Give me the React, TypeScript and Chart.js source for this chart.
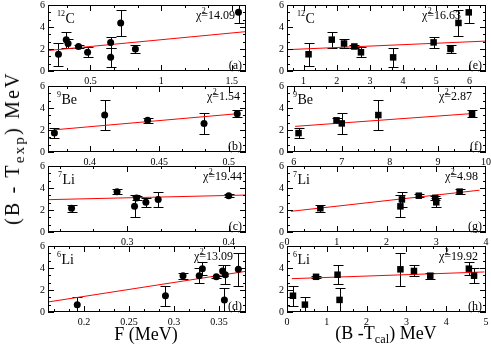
import React, { useEffect, useRef } from "react";
import { Chart, registerables } from "chart.js";
Chart.register(...registerables);

// ---------- data ----------
// 12C
const c12Y = [1.52, 2.85, 2.5, 2.23, 1.7, 2.6, 1.24, 4.37, 2.0, 5.33];
const c12Err = [1.07, 0.72, 0.45, 0.13, 0.47, 0.52, 0.85, 1.2, 0.35, 1.0];
const c12F = [0.274, 0.329, 0.342, 0.416, 0.48, 0.643, 0.643, 0.714, 0.818, 1.547];
const c12Bcal = [1.15, 1.85, 2.22, 2.53, 2.73, 4.92, 3.7, 5.67, 5.43, 5.98];
// 9Be
const be9Y = [1.72, 3.36, 2.88, 2.6, 3.48];
const be9Err = [0.45, 1.37, 0.22, 0.94, 0.3];
const be9F = [0.3746, 0.4108, 0.4417, 0.4823, 0.5062];
const be9Bcal = [6.1, 7.76, 6.89, 7.0, 9.71];
// 7Li
const li7Y = [2.16, 3.67, 2.33, 3.1, 2.7, 2.96, 3.3];
const li7Err = [0.3, 0.2, 1.0, 0.18, 0.4, 0.7, 0.15];
const li7F = [0.2452, 0.29, 0.3072, 0.3092, 0.3184, 0.3305, 0.4];
const li7Bcal = [0.67, 3.47, 2.28, 2.98, 3.0, 2.31, 2.65];
// 6Li
const li6Y = [0.67, 1.48, 3.3, 3.3, 3.94, 3.2, 3.73, 3.39, 1.1, 3.88];
const li6Err = [0.7, 0.89, 0.26, 0.66, 0.6, 0.1, 0.5, 0.85, 1.05, 1.48];
const li6F = [0.1925, 0.2905, 0.31, 0.328, 0.3315, 0.347, 0.354, 0.357, 0.356, 0.3715];
const li6Bcal = [0.45, 0.15, 3.6, 4.7, 4.57, 0.73, 3.19, 1.27, 1.32, 2.85];

// fitted straight lines (end points)
const fitA = { x: [0.2, 1.6], y: [1.86, 3.58] };
const fitB = { x: [0.375, 0.508], y: [2.02, 3.5] };
const fitC = { x: [0.222, 0.417], y: [2.94, 3.36] };
const fitD = { x: [0.16, 0.38], y: [0.91, 3.7] };
const fitE = { x: [0.5, 6.5], y: [1.94, 2.72] };
const fitF = { x: [6.03, 9.73], y: [2.33, 3.5] };
const fitG = { x: [0.08, 3.87], y: [1.88, 3.8] };
const fitH = { x: [0.12, 4.96], y: [3.03, 3.64] };

// axes
const yTicks = [0, 2, 4, 6];
const xTicksA = [0.5, 1, 1.5];
const xTicksB = [0.4, 0.45, 0.5];
const xTicksC = [0.3, 0.4];
const xTicksD = [0.2, 0.25, 0.3, 0.35];
const xTicksE = [1, 2, 3, 4, 5, 6];
const xTicksF = [6, 7, 8, 9, 10];
const xTicksG = [0, 1, 2, 3, 4];
const xTicksH = [0, 1, 2, 3, 4, 5];

const chiValues = ["14.09", "1.54", "19.44", "13.09", "16.63", "2.87", "4.98", "19.92"];
const tags = ["(a)", "(b)", "(c)", "(d)", "(e)", "(f)", "(g)", "(h)"];
const nuclei = [["12", "C"], ["9", "Be"], ["7", "Li"], ["6", "Li"]];

type Panel = {
  x: number[]; y: number[]; err: number[];
  fit: { x: number[]; y: number[] };
  xMin: number; xMax: number; xTicks: number[];
  nuc: string[]; chi: string; tag: string;
  marker: string; col: number; row: number;
};

const panels: Panel[] = [
  { x: c12F, y: c12Y, err: c12Err, fit: fitA, xMin: 0.2, xMax: 1.6, xTicks: xTicksA, nuc: nuclei[0], chi: chiValues[0], tag: tags[0], marker: "circle", col: 0, row: 0 },
  { x: be9F, y: be9Y, err: be9Err, fit: fitB, xMin: 0.37, xMax: 0.5125, xTicks: xTicksB, nuc: nuclei[1], chi: chiValues[1], tag: tags[1], marker: "circle", col: 0, row: 1 },
  { x: li7F, y: li7Y, err: li7Err, fit: fitC, xMin: 0.222, xMax: 0.417, xTicks: xTicksC, nuc: nuclei[2], chi: chiValues[2], tag: tags[2], marker: "circle", col: 0, row: 2 },
  { x: li6F, y: li6Y, err: li6Err, fit: fitD, xMin: 0.16, xMax: 0.38, xTicks: xTicksD, nuc: nuclei[3], chi: chiValues[3], tag: tags[3], marker: "circle", col: 0, row: 3 },
  { x: c12Bcal, y: c12Y, err: c12Err, fit: fitE, xMin: 0.5, xMax: 6.5, xTicks: xTicksE, nuc: nuclei[0], chi: chiValues[4], tag: tags[4], marker: "rect", col: 1, row: 0 },
  { x: be9Bcal, y: be9Y, err: be9Err, fit: fitF, xMin: 5.86, xMax: 10, xTicks: xTicksF, nuc: nuclei[1], chi: chiValues[5], tag: tags[5], marker: "rect", col: 1, row: 1 },
  { x: li7Bcal, y: li7Y, err: li7Err, fit: fitG, xMin: 0, xMax: 4, xTicks: xTicksG, nuc: nuclei[2], chi: chiValues[6], tag: tags[6], marker: "rect", col: 1, row: 2 },
  { x: li6Bcal, y: li6Y, err: li6Err, fit: fitH, xMin: 0, xMax: 5, xTicks: xTicksH, nuc: nuclei[3], chi: chiValues[7], tag: tags[7], marker: "rect", col: 1, row: 3 },
];

// ---------- layout (pixels) ----------
const colLeft = [48, 287];
const colWidth = [198, 199];
const rowTop = [5, 86, 166, 246];
const panelH = 66;
const Wy = 24, PT = 8, PR = 10, HX = 18;
const chiRightOffset = [11, 6, 4, 13, 25, 14, 8, 8];
const nucLeftOffset = [9, 9, 10, 9, 10, 6, 6, 6];
const FONT = '"Liberation Serif", "Times New Roman", serif';

function minorTicks(majors: number[], min: number, max: number, sub: number) {
  const step = (majors[1] - majors[0]) / sub;
  const out: number[] = [];
  const start = majors[0] - Math.ceil((majors[0] - min) / step + 1e-9) * step;
  for (let v = start; v <= max + 1e-9; v += step) {
    if (v < min - 1e-9) continue;
    const isMajor = majors.some((m) => Math.abs(m - v) < step * 0.01);
    if (!isMajor) out.push(v);
  }
  return out;
}

function makePlugin(p: Panel, idx: number) {
  return {
    id: "frameAndBars" + idx,
    beforeDatasetsDraw(chart: any) {
      const { ctx, chartArea: a, scales } = chart;
      const xs = scales.x, ys = scales.y;
      ctx.save();
      ctx.beginPath();
      ctx.rect(a.left, a.top, a.right - a.left, a.bottom - a.top);
      ctx.clip();
      ctx.strokeStyle = "#000";
      ctx.lineWidth = 1;
      p.x.forEach((xv, i) => {
        const px = Math.round(xs.getPixelForValue(xv)) + 0.5;
        const t = Math.round(ys.getPixelForValue(p.y[i] + p.err[i])) + 0.5;
        const b = Math.round(ys.getPixelForValue(p.y[i] - p.err[i])) + 0.5;
        ctx.beginPath();
        ctx.moveTo(px, t); ctx.lineTo(px, b);
        ctx.moveTo(px - 5, t); ctx.lineTo(px + 5, t);
        ctx.moveTo(px - 5, b); ctx.lineTo(px + 5, b);
        ctx.stroke();
      });
      ctx.restore();
    },
    afterDraw(chart: any) {
      const { ctx, chartArea: a, scales } = chart;
      const xs = scales.x, ys = scales.y;
      ctx.save();
      ctx.strokeStyle = "#000";
      ctx.lineWidth = 1;
      // frame
      ctx.strokeRect(a.left + 0.5, a.top + 0.5, a.right - a.left - 1, a.bottom - a.top - 1);
      // ticks
      const MAJ = 6, MIN = 3;
      ctx.beginPath();
      const xMin = minorTicks(p.xTicks, p.xMin, p.xMax, 3);
      const drawX = (v: number, len: number) => {
        const px = Math.round(xs.getPixelForValue(v)) + 0.5;
        if (px < a.left || px > a.right) return;
        ctx.moveTo(px, a.bottom); ctx.lineTo(px, a.bottom - len);
        ctx.moveTo(px, a.top); ctx.lineTo(px, a.top + len);
      };
      p.xTicks.forEach((v) => drawX(v, MAJ));
      xMin.forEach((v) => drawX(v, MIN));
      const yMin = minorTicks(yTicks, 0, 6, 3);
      const drawY = (v: number, len: number) => {
        const py = Math.round(ys.getPixelForValue(v)) + 0.5;
        ctx.moveTo(a.left, py); ctx.lineTo(a.left + len, py);
        ctx.moveTo(a.right, py); ctx.lineTo(a.right - len, py);
      };
      yTicks.forEach((v) => drawY(v, MAJ));
      yMin.forEach((v) => drawY(v, MIN));
      ctx.stroke();

      ctx.fillStyle = "#000";
      ctx.textBaseline = "alphabetic";
      // nucleus label
      const nx = a.left + nucLeftOffset[idx];
      ctx.font = `8px ${FONT}`;
      ctx.textAlign = "left";
      ctx.fillText(p.nuc[0], nx, a.top + 11);
      const sw = ctx.measureText(p.nuc[0]).width;
      ctx.font = `14px ${FONT}`;
      ctx.fillText(p.nuc[1], nx + sw + 0.5, a.top + 18);
      // chi^2
      ctx.font = `12px ${FONT}`;
      const rest = "=" + p.chi;
      const wRest = ctx.measureText(rest).width;
      const wChi = ctx.measureText("\u03c7").width;
      const rx = a.right - chiRightOffset[idx];
      const cy = a.top + 14;
      ctx.fillText(rest, rx - wRest, cy);
      ctx.fillText("\u03c7", rx - wRest - wChi, cy);
      ctx.font = `8px ${FONT}`;
      ctx.fillText("2", rx - wRest + 0.5, cy - 6);
      // tag
      ctx.font = `12px ${FONT}`;
      ctx.textAlign = "right";
      ctx.fillText(p.tag, a.right - 4, a.bottom - 2);
      ctx.restore();
    },
  };
}

function PanelChart({ p, idx }: { p: Panel; idx: number }) {
  const ref = useRef<HTMLCanvasElement | null>(null);
  const pw = colWidth[p.col];
  const cw = Wy + pw + PR;
  const chh = PT + panelH + HX;
  useEffect(() => {
    if (!ref.current) return;
    const tickFont = { family: FONT, size: 10 };
    const chart = new Chart(ref.current, {
      type: "scatter",
      data: {
        datasets: [
          {
            data: p.x.map((xv, i) => ({ x: xv, y: p.y[i] })),
            pointStyle: p.marker as any,
            pointRadius: p.marker === "rect" ? 4.6 : 3.5,
            backgroundColor: "#000",
            borderColor: "#000",
            borderWidth: 0,
            order: 0,
          },
          {
            data: p.fit.x.map((xv, i) => ({ x: xv, y: p.fit.y[i] })),
            showLine: true,
            borderColor: "#ff0000",
            borderWidth: 1,
            pointRadius: 0,
            order: 1,
          } as any,
        ],
      },
      options: {
        animation: false,
        responsive: false,
        maintainAspectRatio: false,
        devicePixelRatio: 1,
        events: [],
        layout: { padding: { left: 0, right: PR, top: PT, bottom: 0 } },
        plugins: { legend: { display: false }, tooltip: { enabled: false } },
        scales: {
          x: {
            type: "linear",
            min: p.xMin,
            max: p.xMax,
            grid: { display: false, drawTicks: false },
            border: { display: false },
            ticks: {
              font: tickFont,
              color: "#000",
              padding: 4,
              maxRotation: 0,
              autoSkip: false,
              callback: (v: any) => String(v),
            },
            afterBuildTicks: (s: any) => {
              s.ticks = p.xTicks.map((v) => ({ value: v }));
            },
            afterFit: (s: any) => {
              s.height = HX;
              s.paddingLeft = 0; s.paddingRight = 0; s.paddingTop = 0; s.paddingBottom = 0;
            },
          },
          y: {
            type: "linear",
            min: 0,
            max: 6,
            grid: { display: false, drawTicks: false },
            border: { display: false },
            ticks: {
              font: tickFont,
              color: "#000",
              padding: 3,
              autoSkip: false,
              callback: (v: any) => String(v),
            },
            afterBuildTicks: (s: any) => {
              s.ticks = yTicks.map((v) => ({ value: v }));
            },
            afterFit: (s: any) => {
              s.width = Wy;
              s.paddingLeft = 0; s.paddingRight = 0; s.paddingTop = 0; s.paddingBottom = 0;
            },
          },
        },
      } as any,
      plugins: [makePlugin(p, idx)],
    });
    return () => chart.destroy();
  }, []);
  return (
    <canvas
      ref={ref}
      width={cw}
      height={chh}
      style={{
        position: "absolute",
        left: colLeft[p.col] - Wy,
        top: rowTop[p.row] - PT,
        width: cw,
        height: chh,
      }}
    />
  );
}

export default function App() {
  const sub: React.CSSProperties = { fontSize: "0.68em", position: "relative", top: "0.35em" };
  const subY: React.CSSProperties = { fontSize: "0.75em", position: "relative", top: "0.35em" };
  return (
    <div
      style={{
        position: "fixed",
        left: 0,
        top: 0,
        width: 491,
        height: 349,
        background: "#fff",
        overflow: "hidden",
        fontFamily: FONT,
        color: "#000",
      }}
    >
      {panels.map((p, i) => (
        <PanelChart key={i} p={p} idx={i} />
      ))}
      <div
        style={{
          position: "absolute",
          left: 146,
          top: 334,
          transform: "translate(-50%, -50%)",
          fontSize: 18,
          whiteSpace: "nowrap",
          lineHeight: "20px",
        }}
      >
        F (MeV)
      </div>
      <div
        style={{
          position: "absolute",
          left: 386,
          top: 334,
          transform: "translate(-50%, -50%)",
          fontSize: 18,
          whiteSpace: "nowrap",
          lineHeight: "20px",
        }}
      >
        (B -T<span style={sub}>cal</span>) MeV
      </div>
      <div
        style={{
          position: "absolute",
          left: 13,
          top: 148,
          transform: "translate(-50%, -50%) rotate(-90deg)",
          fontSize: 20,
          letterSpacing: "2.2px",
          whiteSpace: "pre",
          lineHeight: "22px",
        }}
      >
        (B - T<span style={subY}>exp</span>) MeV
      </div>
    </div>
  );
}
